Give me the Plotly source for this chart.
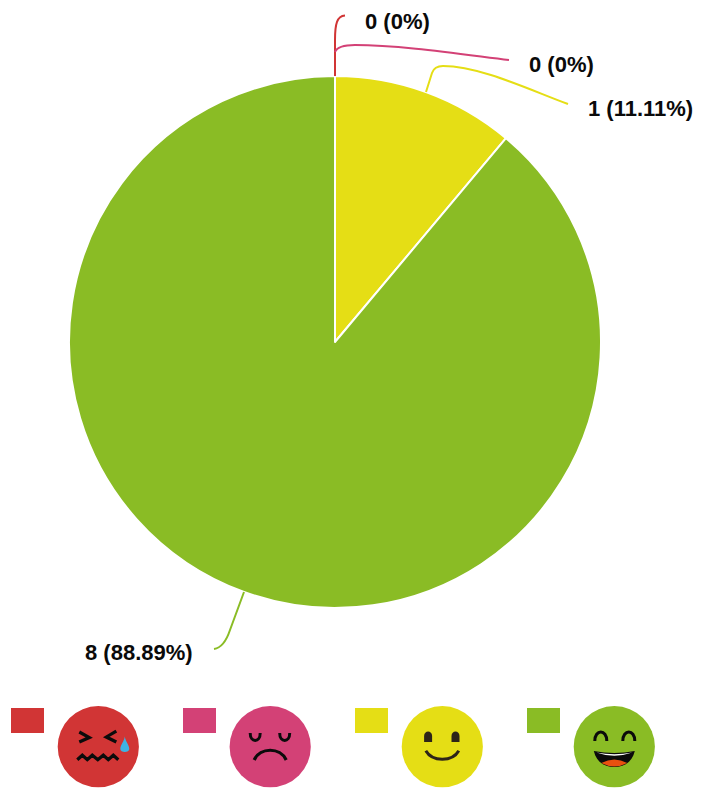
import plotly.graph_objects as go

W, H = 701, 791
categories = ["Very unhappy", "Unhappy", "Happy", "Very happy"]
values = [0, 0, 1, 8]
percent_text = ["0 (0%)", "0 (0%)", "1 (11.11%)", "8 (88.89%)"]
colors = ["#d13535", "#d34176", "#e5de15", "#8abc25"]


def fx(px):
    return px / W


def fy(py):
    return 1 - py / H


def path(cmds):
    out = []
    for c in cmds:
        op, pts = c[0], c[1:]
        out.append(op + " ".join(f"{fx(pts[i]):.5f},{fy(pts[i+1]):.5f}" for i in range(0, len(pts), 2)))
    return " ".join(out)


shapes = []


def stroke(cmds, color, width=2):
    shapes.append(dict(type="path", xref="paper", yref="paper", path=path(cmds),
                       line=dict(color=color, width=width), fillcolor="rgba(0,0,0,0)", layer="above"))


def fill(cmds, color):
    shapes.append(dict(type="path", xref="paper", yref="paper", path=path(cmds) + " Z",
                       line=dict(width=0), fillcolor=color, layer="above"))


def circle(cx, cy, r, color):
    shapes.append(dict(type="circle", xref="paper", yref="paper", x0=fx(cx - r), x1=fx(cx + r),
                       y0=fy(cy + r), y1=fy(cy - r), line=dict(width=0), fillcolor=color, layer="above"))


# leader lines
stroke([("M", 335, 76), ("L", 335, 40), ("C", 335, 24, 337, 16, 345, 15.5)], colors[0])
stroke([("M", 335, 52), ("C", 337, 47, 344, 45, 355, 45), ("C", 400, 45, 460, 54, 509, 60)], colors[1])
stroke([("M", 426, 92), ("L", 432, 73), ("C", 434, 67, 438, 66, 443, 66), ("C", 480, 66, 530, 90, 568, 104)], colors[2])
stroke([("M", 244, 592), ("L", 230, 630), ("C", 226, 642, 221, 648, 214, 649)], colors[3])

# legend swatches and faces
swatch_x = [11, 183, 355, 527]
face_x = [98.3, 270.2, 442.3, 614.3]
face_y = 746.7
for sx, fxx, col in zip(swatch_x, face_x, colors):
    shapes.append(dict(type="rect", xref="paper", yref="paper", x0=fx(sx), x1=fx(sx + 33),
                       y0=fy(733), y1=fy(708), line=dict(width=0), fillcolor=col, layer="above"))
    circle(fxx, face_y, 40.6, col)

K = "#0b0b0b"
# very unhappy face
c = face_x[0]
stroke([("M", c - 19, 732), ("L", c - 9, 737.5), ("L", c - 19, 742)], K, 3.2)
stroke([("M", c + 18, 731), ("L", c + 8, 737), ("L", c + 18, 742)], K, 3.2)
zig = [(-21, 13), (-16, 8.5), (-11, 13), (-6, 8.5), (-0.5, 13), (5, 8.5), (10, 13), (15, 8.5), (20, 13)]
stroke([("M", c + zig[0][0], face_y + zig[0][1])] + [("L", c + a, face_y + b) for a, b in zig[1:]], K, 3.2)
fill([("M", c + 26.5, 736.5), ("C", c + 27, 741, c + 31, 745, c + 31, 749),
      ("C", c + 31, 753, c + 22, 753, c + 22, 749), ("C", c + 22, 745, c + 26, 741, c + 26.5, 736.5)], "#3db3e3")

# unhappy face
c = face_x[1]
stroke([("M", c - 20, 733), ("C", c - 20, 743, c - 10, 743, c - 10, 733)], K, 3)
stroke([("M", c + 9.5, 733), ("C", c + 9.5, 743, c + 19.5, 743, c + 19.5, 733)], K, 3)
stroke([("M", c - 16, 760), ("C", c - 10, 747, c + 10, 747, c + 16, 760)], K, 3.2)

# happy face
c = face_x[2]
E = "#2d2418"
for dx in (-18.2, 9.2):
    fill([("M", c + dx, 742), ("L", c + dx, 736), ("C", c + dx, 730, c + dx + 8, 730, c + dx + 8, 736),
          ("L", c + dx + 8, 742)], E)
stroke([("M", c - 16.5, 750.7), ("C", c - 10, 762, c + 10, 762, c + 16.5, 750.7)], E, 3)

# very happy face
c = face_x[3]
stroke([("M", c - 19.5, 741), ("C", c - 19.5, 729, c - 7.5, 729, c - 7.5, 741)], K, 3)
stroke([("M", c + 8.5, 741), ("C", c + 8.5, 729, c + 20.5, 729, c + 20.5, 741)], K, 3)
fill([("M", c - 20.5, 751), ("Q", c, 755, c + 20.5, 751), ("C", c + 18, 762, c + 10, 767, c, 767),
      ("C", c - 10, 767, c - 18, 762, c - 20.5, 751)], K)
fill([("M", c - 18, 752.5), ("Q", c, 756, c + 18, 752.5), ("Q", c, 759, c - 18, 752.5)], "#ffffff")
fill([("M", c - 13, 763), ("Q", c, 756, c + 13, 763), ("Q", c, 770, c - 13, 763)], "#e8500f")

label_xy = [(364.5, 8), (527.5, 51), (586.5, 95), (83.5, 638.5)]
annotations = [dict(text=f"<b>{t}</b>", x=fx(x), y=fy(y), xref="paper", yref="paper", xanchor="left",
                    yanchor="top", showarrow=False, align="left", borderpad=0,
                    font=dict(family="Liberation Sans", size=22, color="#0a0a0a"))
               for t, (x, y) in zip(percent_text, label_xy)]

fig = go.Figure(go.Pie(
    labels=categories, values=values, sort=False, direction="clockwise", rotation=0,
    textinfo="none", hoverinfo="label+value+percent", showlegend=False,
    marker=dict(colors=colors, line=dict(color="#ffffff", width=2)),
    domain=dict(x=[fx(69), fx(601)], y=[fy(608), fy(76)]),
))
fig.update_layout(width=W, height=H, margin=dict(l=0, r=0, t=0, b=0), paper_bgcolor="#ffffff",
                  shapes=shapes, annotations=annotations)
fig.write_html("out.html", config=dict(displayModeBar=False),
               post_script="document.body.style.margin='0';document.documentElement.style.overflow='hidden';")
